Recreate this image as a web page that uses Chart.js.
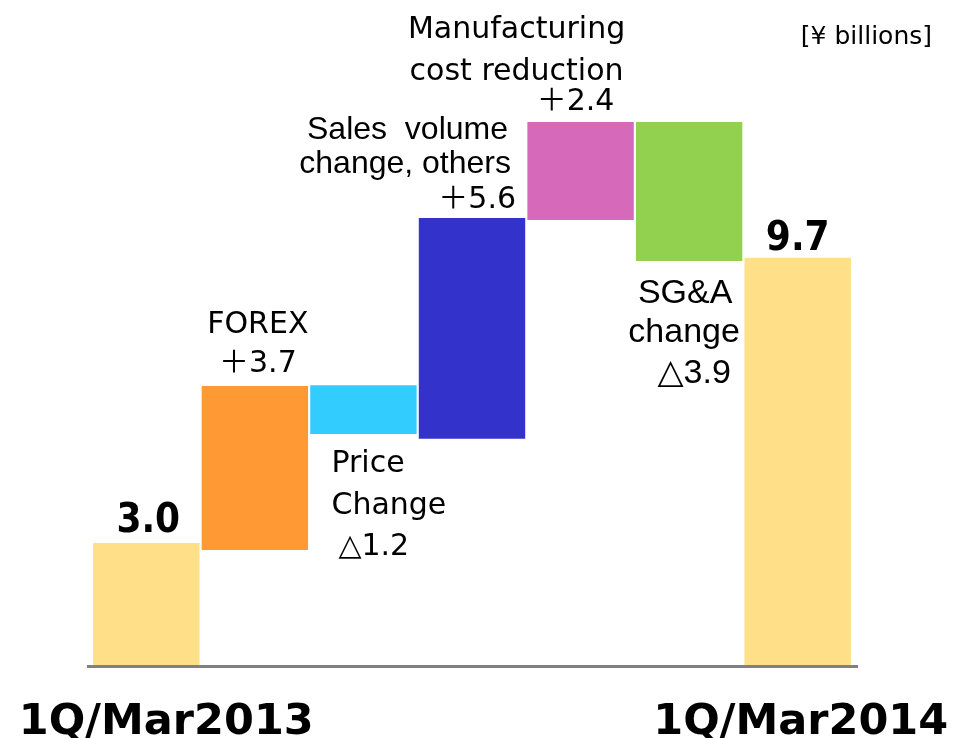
<!DOCTYPE html>
<html>
<head>
<meta charset="utf-8">
<script src="https://cdn.jsdelivr.net/npm/chart.js@4"></script>
<style>
  body { margin: 0; background: #fff; }
  canvas { display: block; }
</style>
</head>
<body>
<canvas id="bridgeChart" width="953" height="738"></canvas>
<script>
// 데이터 (¥ billions), 그림에서 읽은 막대 범위
const steps = ['start', 'forex', 'price', 'sales', 'mfg', 'sga', 'end'];
const barLow = [0, 2.83, 5.68, 5.56, 10.94, 9.93, 0];
const barHigh = [3.0, 6.86, 6.88, 10.99, 13.35, 13.35, 10.01];
const barColors = ['#FFE088', '#FF9933', '#33CCFF', '#3333CC', '#D669BA', '#92D050', '#FFE088'];

// 라벨 텍스트
const stepTexts = [
  ['3.0'],
  ['FOREX', '＋3.7'],
  ['Price', 'Change', '△1.2'],
  ['Sales  volume', 'change, others', '＋5.6'],
  ['Manufacturing', 'cost reduction', '＋2.4'],
  ['SG&A', 'change', '△3.9'],
  ['9.7']
];
const periodLabels = ['1Q/Mar2013', '1Q/Mar2014'];
const unitLabel = '[¥ billions]';

// 폰트
const TAH = '30px "DejaVu Sans", "Noto Sans CJK JP", sans-serif';
const ARI = '32px "Liberation Sans", Arial, "DejaVu Sans", sans-serif';
const ARI34 = '34px "Liberation Sans", Arial, "DejaVu Sans", sans-serif';
const BIG = 'bold 40px "DejaVu Sans Condensed", "DejaVu Sans", sans-serif';

// 라벨 위치 (막대 기준 오프셋): [dx, dy, align, font], anchor = top | bottom
const labelLayout = [
  { anchor: 'top', lines: [[2, -11, 'center', BIG]] },
  { anchor: 'top', lines: [[3, -53, 'center', TAH], [3, -14, 'center', TAH]] },
  { anchor: 'bottom', lines: [[-32, 38, 'left', TAH], [-32, 80, 'left', TAH], [-25, 121, 'left', TAH]] },
  { anchor: 'top', lines: [[36, -79, 'right', ARI], [39, -45, 'right', ARI], [44, -10, 'right', TAH]] },
  { anchor: 'top', lines: [[-64, -84, 'center', TAH], [-64, -42, 'center', TAH], [-5, -12, 'center', TAH]] },
  { anchor: 'bottom', lines: [[-4, 42, 'center', ARI34], [-5, 81, 'center', ARI34], [5, 122, 'center', ARI34]] },
  { anchor: 'top', lines: [[0, -8, 'center', BIG]] }
];

const labelPlugin = {
  id: 'bridgeLabels',
  beforeDatasetsDraw(chart) {
    const ctx = chart.ctx;
    const area = chart.chartArea;
    // 바닥 기준선
    ctx.save();
    ctx.strokeStyle = '#808080';
    ctx.lineWidth = 3;
    ctx.beginPath();
    ctx.moveTo(area.left - 5, area.bottom + 1.5);
    ctx.lineTo(area.right + 6, area.bottom + 1.5);
    ctx.stroke();
    ctx.restore();
  },
  afterDatasetsDraw(chart) {
    const ctx = chart.ctx;
    const bars = chart.getDatasetMeta(0).data;
    ctx.save();
    ctx.fillStyle = '#000';
    ctx.textBaseline = 'alphabetic';
    bars.forEach((bar, i) => {
      const lay = labelLayout[i];
      const top = Math.min(bar.y, bar.base);
      const bottom = Math.max(bar.y, bar.base);
      const ay = lay.anchor === 'top' ? top : bottom;
      stepTexts[i].forEach((txt, j) => {
        const [dx, dy, align, font] = lay.lines[j];
        ctx.font = font;
        ctx.textAlign = align;
        ctx.fillText(txt, bar.x + dx, ay + dy);
      });
    });
    // 기간 라벨
    ctx.font = 'bold 43px "DejaVu Sans", sans-serif';
    ctx.textAlign = 'center';
    ctx.fillText(periodLabels[0], bars[0].x + 20, 734);
    ctx.fillText(periodLabels[1], bars[6].x + 3, 734);
    // 단위
    ctx.font = '25px "DejaVu Sans", sans-serif';
    ctx.textAlign = 'right';
    ctx.fillText(unitLabel, 932, 44);
    ctx.restore();
  }
};

const ctx = document.getElementById('bridgeChart').getContext('2d');
const bridgeChart = new Chart(ctx, {
  type: 'bar',
  data: {
    labels: steps,
    datasets: [{
      data: steps.map((_, i) => [barLow[i], barHigh[i]]),
      backgroundColor: barColors,
      borderWidth: 0,
      barPercentage: 0.98,
      categoryPercentage: 1.0
    }]
  },
  options: {
    responsive: false,
    animation: false,
    layout: { padding: { left: 92, right: 101, top: 122, bottom: 73 } },
    plugins: {
      legend: { display: false },
      tooltip: { enabled: false }
    },
    scales: {
      x: { display: false },
      y: { display: false, min: 0, max: 13.35 }
    }
  },
  plugins: [labelPlugin]
});
</script>
</body>
</html>
